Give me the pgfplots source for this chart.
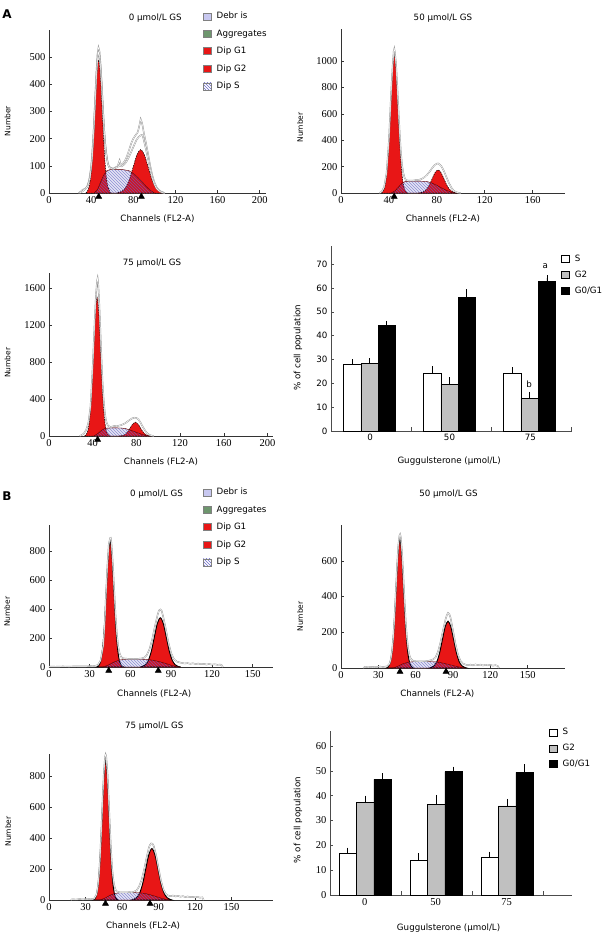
\documentclass[border=0pt]{standalone}
\usepackage{fontspec}
\setmainfont{DejaVu Sans}
\newfontfamily\serifnum{Liberation Serif}
\usepackage{pgfplots}
\pgfplotsset{compat=1.18}
\usetikzlibrary{patterns}
\definecolor{hred}{RGB}{232,22,22}
\definecolor{hatch}{RGB}{105,105,200}
\definecolor{debris}{RGB}{200,200,240}
\definecolor{aggr}{RGB}{110,150,110}
\definecolor{bargray}{RGB}{192,192,192}
\newcommand\lab{\fontsize{8.7}{10}\selectfont}
\newcommand\numf{\serifnum\fontsize{10.5}{12}\selectfont}

\pgfplotsset{
  hist/.style={scale only axis, anchor=south west, xmin=0, ymin=0,
    axis x line*=bottom, axis y line*=left,
    axis line style={black!80, line width=0.6pt, -},
    tick align=inside, major tick length=3pt,
    tick style={black!80, line width=0.5pt},
    tick label style={font=\numf},
    /pgf/number format/assume math mode=true,
    /pgf/number format/1000 sep={},
    xlabel={Channels (FL2-A)}, ylabel={Number},
    xlabel style={font=\lab, anchor=center},
    ylabel style={font=\fontsize{7.5}{9}\selectfont, anchor=center},
    every axis title shift=0pt,
    title style={font=\lab, anchor=center},
    clip=false,
    legend image code/.code={\draw[##1] (0pt,-3.5pt) rectangle (8pt,3.5pt);},
    legend cell align=left,
    legend style={anchor=north west, draw=none, fill=none, font=\lab,
      row sep=5.5pt, inner sep=0pt, /tikz/every odd column/.append style={column sep=3pt}},
  },
  bars/.style={scale only axis, anchor=south west, xmin=0, ymin=0,
    axis x line*=bottom, axis y line*=left,
    axis line style={black!70, line width=0.6pt, -},
    tick align=inside, major tick length=3pt, minor tick length=4pt,
    tick style={black!70, line width=0.5pt},
    minor xtick={1,2,3}, major x tick style={draw=none},
    /pgf/number format/assume math mode=true,
    xticklabels={0,50,75},
    ylabel={\% of cell population}, xlabel={Guggulsterone (μmol/L)},
    xlabel style={font=\lab, anchor=center},
    ylabel style={font=\lab, anchor=center},
    clip=false,
    legend image code/.code={\draw[##1] (0pt,-3.5pt) rectangle (8pt,3.5pt);},
    legend cell align=left,
    legend style={anchor=north west, draw=none, fill=none, font=\lab,
      row sep=4pt, inner sep=0pt, /tikz/every odd column/.append style={column sep=3pt}},
  },
  peakA/.style={fill=hred, draw=black, dash pattern=on 1.5pt off 1pt, line width=0.5pt, smooth, forget plot},
  peakB/.style={fill=hred, draw=black, line width=0.9pt, smooth, forget plot},
  sbase/.style={fill=white, draw=none, forget plot},
  sover/.style={fill=blue!60!black, fill opacity=0.1, draw=red!40!black, draw opacity=0.7, line width=0.4pt,
    postaction={pattern=north west lines, pattern color=hatch, fill opacity=0.9}, forget plot},
  dataline/.style={draw=gray!85, line width=0.45pt, double=white, double distance=0.5pt, forget plot},
  tri/.style={only marks, mark=triangle*, mark size=3.5pt, mark options={fill=black, draw=black, yshift=-3.6pt}, forget plot},
}

\begin{document}
\begin{tikzpicture}
\path[use as bounding box, fill=white] (0pt,0pt) rectangle (611pt,-937pt);

\node[font=\bfseries\fontsize{12}{12}\selectfont] at (7pt,-14pt) {A};
\node[font=\bfseries\fontsize{12}{12}\selectfont] at (7pt,-496pt) {B};

% ---------- A: 0 umol/L ----------
\begin{axis}[hist, at={(49pt,-193pt)}, width=217pt, height=163pt,
  xmax=206, ymax=600, xtick={0,40,...,200}, ytick={0,100,...,500},
  title={0 μmol/L GS}, title style={at={(axis description cs:0.49,1)}, yshift=12pt},
  xlabel style={at={(axis description cs:0.5,0)}, yshift=-26pt},
  ylabel style={at={(axis description cs:-0.191,0.44)}},
  legend style={at={(0.71,1.123)}}]
\addplot[sbase] coordinates {(43,0) (46,12) (49,40) (52,66) (55,82) (58,86) (64,86) (70,86) (76,82) (80,72) (84,58) (88,42) (92,25) (96,10) (100,0)} \closedcycle;
\addplot[peakA] coordinates {(35,0) (36.2,5) (38,22) (39.8,66) (41.6,159) (43.4,297) (45.2,432) (47,490) (48.8,432) (50.6,297) (52.4,159) (54.2,66) (56,22) (57.8,5) (59,0)} \closedcycle;
\addplot[peakA] coordinates {(65,0) (66,2) (69.5,7) (73,22) (76.5,52) (80,97) (83.5,141) (87,160) (90.5,141) (94,97) (97.5,52) (101,22) (104.5,7) (108,2) (109,0)} \closedcycle;
\addplot[sover] coordinates {(43,0) (46,12) (49,40) (52,66) (55,82) (58,86) (64,86) (70,86) (76,82) (80,72) (84,58) (88,42) (92,25) (96,10) (100,0)} \closedcycle;
\addplot[dataline] coordinates {(28,0) (30,5) (32,12) (34,15) (36,22) (38,45) (40,95) (42,200) (44,365) (45,445) (46,510) (47,535) (48,520) (49,470) (50,405) (51,330) (52,258) (53,198) (54,158) (55,128) (56,108) (57,97) (59,92) (61,90) (63,94) (65,98) (66,108) (67,120) (68,104) (70,108) (72,118) (74,135) (76,158) (78,182) (80,200) (82,212) (84,222) (85,235) (86,252) (87,272) (88,262) (89,245) (90,222) (92,185) (94,145) (96,102) (98,66) (100,40) (102,22) (104,12) (106,6) (108,3) (110,0)};
\addplot[dataline] coordinates {(29,0) (31,4) (33,10) (35,16) (37,28) (39,58) (41,130) (43,270) (45,432) (46,490) (47,518) (48,505) (49,462) (50,400) (51,326) (52,255) (53,196) (54,155) (55,126) (56,106) (57,96) (59,90) (61,88) (63,92) (65,95) (67,102) (69,98) (71,104) (73,112) (75,126) (77,142) (79,160) (81,178) (83,195) (85,206) (87,212) (88,214) (89,210) (90,195) (92,162) (94,125) (96,88) (98,56) (100,32) (102,17) (104,9) (106,4) (108,1) (110,0)};
\addplot[tri] coordinates {(47.2,0) (87.7,0)};
\addlegendimage{fill=debris, draw=gray}
\addlegendentry{Debr is}
\addlegendimage{fill=aggr, draw=gray}
\addlegendentry{Aggregates}
\addlegendimage{fill=hred, draw=gray}
\addlegendentry{Dip G1}
\addlegendimage{fill=hred, draw=gray}
\addlegendentry{Dip G2}
\addlegendimage{fill=white, draw=gray, postaction={pattern=north west lines, pattern color=hatch}}
\addlegendentry{Dip S}
\end{axis}

% ---------- A: 50 umol/L ----------
\begin{axis}[hist, at={(341pt,-193pt)}, width=224pt, height=164pt,
  xmax=187, ymax=1242, xtick={0,40,...,160}, ytick={0,200,...,1000},
  title={50 μmol/L GS}, title style={at={(axis description cs:0.455,1)}, yshift=11pt},
  xlabel style={at={(axis description cs:0.455,0)}, yshift=-26pt},
  ylabel style={at={(axis description cs:-0.183,0.40)}}]
\addplot[sbase] coordinates {(42,0) (45,15) (48,45) (51,75) (54,88) (60,90) (66,90) (72,86) (76,75) (80,58) (84,38) (88,20) (92,6) (95,0)} \closedcycle;
\addplot[peakA] coordinates {(33.5,0) (34.9,12) (36.5,46) (38.1,141) (39.7,338) (41.3,631) (42.9,918) (44.5,1040) (46.1,918) (47.7,631) (49.3,338) (50.9,141) (52.5,46) (54.1,12) (55.5,0)} \closedcycle;
\addplot[peakA] coordinates {(64.5,0) (66,2) (68.5,8) (71,24) (73.5,57) (76,106) (78.5,154) (81,175) (83.5,154) (86,106) (88.5,57) (91,24) (93.5,8) (96,2) (97.5,0)} \closedcycle;
\addplot[sover] coordinates {(42,0) (45,15) (48,45) (51,75) (54,88) (60,90) (66,90) (72,86) (76,75) (80,58) (84,38) (88,20) (92,6) (95,0)} \closedcycle;
\addplot[dataline] coordinates {(32,0) (34,10) (36,45) (38,150) (40,400) (42,790) (43,950) (44,1075) (44.5,1093) (45,1065) (46,975) (47,810) (48,630) (49,455) (50,310) (51,212) (52,152) (53,118) (54,100) (56,93) (58,95) (60,94) (62,97) (64,99) (66,102) (68,110) (70,122) (72,140) (74,162) (76,188) (78,210) (80,222) (81,224) (82,218) (84,200) (86,165) (88,120) (90,78) (92,42) (94,18) (96,7) (98,2) (100,0)};
\addplot[tri] coordinates {(44.4,0)};
\end{axis}

% ---------- A: 75 umol/L ----------
\begin{axis}[hist, at={(49pt,-436pt)}, width=224pt, height=163pt,
  xmax=205, ymax=1762, xtick={0,40,...,200}, ytick={0,400,...,1600},
  title={75 μmol/L GS}, title style={at={(axis description cs:0.46,1)}, yshift=10pt},
  xlabel style={at={(axis description cs:0.5,0)}, yshift=-26pt},
  ylabel style={at={(axis description cs:-0.185,0.45)}}]
\addplot[sbase] coordinates {(41,0) (44,20) (47,50) (50,75) (53,85) (60,88) (66,86) (70,80) (74,65) (78,48) (82,30) (86,14) (90,4) (92,0)} \closedcycle;
\addplot[peakA] coordinates {(32.5,0) (34.1,17) (35.75,66) (37.4,203) (39.05,487) (40.7,910) (42.35,1324) (44,1500) (45.65,1324) (47.3,910) (48.95,487) (50.6,203) (52.25,66) (53.9,17) (55.5,0)} \closedcycle;
\addplot[peakA] coordinates {(64,0) (65.5,2) (67.75,7) (70,20) (72.25,49) (74.5,91) (76.75,132) (79,150) (81.25,132) (83.5,91) (85.75,49) (88,20) (90.25,7) (92.5,2) (94,0)} \closedcycle;
\addplot[sover] coordinates {(41,0) (44,20) (47,50) (50,75) (53,85) (60,88) (66,86) (70,80) (74,65) (78,48) (82,30) (86,14) (90,4) (92,0)} \closedcycle;
\addplot[dataline] coordinates {(28,0) (30,10) (32,28) (34,65) (36,140) (38,320) (40,760) (41,1030) (42,1300) (43,1530) (44,1680) (44.5,1708) (45,1660) (46,1440) (47,1150) (48,850) (49,590) (50,400) (51,265) (52,180) (53,135) (54,112) (56,98) (58,102) (60,110) (62,104) (64,112) (66,118) (68,128) (70,140) (72,158) (74,175) (76,190) (78,198) (80,196) (82,178) (84,140) (86,96) (88,58) (90,28) (92,11) (94,4) (96,0)};
\addplot[tri] coordinates {(44.5,0)};
\end{axis}

% ---------- A: bar chart ----------
\begin{axis}[bars, at={(331pt,-431pt)}, width=241pt, height=185pt,
  xmax=3.01, ymax=77.6, ytick={0,10,...,70}, xtick={0.49,1.48,2.49},
  tick label style={font=\lab},
  xlabel style={at={(axis description cs:0.49,0)}, yshift=-30pt},
  ylabel style={at={(axis description cs:-0.137,0.45)}},
  legend style={at={(0.955,0.965)}}]
\addplot[ybar, bar width=0.215, bar shift=0pt, fill=white, draw=black, line width=0.5pt, forget plot,
  error bars/.cd, y dir=plus, y explicit, error bar style={black, line width=0.5pt}, error mark options={black, mark size=3pt, line width=0.5pt}]
  coordinates {(0.265,28.2) +- (0,0.7) (1.265,24.2) +- (0,1.6) (2.265,24.2) +- (0,1.3)};
\addplot[ybar, bar width=0.215, bar shift=0pt, fill=bargray, draw=black, line width=0.5pt, forget plot,
  error bars/.cd, y dir=plus, y explicit, error bar style={black, line width=0.5pt}, error mark options={black, mark size=3pt, line width=0.5pt}]
  coordinates {(0.48,28.4) +- (0,0.9) (1.48,19.6) +- (0,1.7) (2.48,13.7) +- (0,1.5)};
\addplot[ybar, bar width=0.215, bar shift=0pt, fill=black, draw=black, line width=0.5pt, forget plot,
  error bars/.cd, y dir=plus, y explicit, error bar style={black, line width=0.5pt}, error mark options={black, mark size=3pt, line width=0.5pt}]
  coordinates {(0.695,44.2) +- (0,0.7) (1.695,56.0) +- (0,2.3) (2.695,62.8) +- (0,1.3)};
\node[font=\lab] at (axis cs:2.675,69.2) {a};
\node[font=\lab] at (axis cs:2.475,19.4) {b};
\addlegendimage{fill=white, draw=black}
\addlegendentry{S}
\addlegendimage{fill=bargray, draw=black}
\addlegendentry{G2}
\addlegendimage{fill=black, draw=black}
\addlegendentry{G0/G1}
\end{axis}

% ---------- B: 0 umol/L ----------
\begin{axis}[hist, at={(49pt,-667pt)}, width=224pt, height=142pt,
  xmax=165, ymax=980, xtick={0,30,...,150}, ytick={0,200,...,800},
  title={0 μmol/L GS}, title style={at={(axis description cs:0.48,1)}, yshift=31pt},
  xlabel style={at={(axis description cs:0.47,0)}, yshift=-27pt},
  ylabel style={at={(axis description cs:-0.1875,0.39)}},
  legend style={at={(0.6875,1.275)}}]
\addplot[sbase] coordinates {(40,0) (44,15) (48,35) (52,48) (56,53) (62,55) (68,54) (74,50) (78,44) (82,35) (86,24) (90,12) (94,3) (96,0)} \closedcycle;
\addplot[peakB] coordinates {(35,0) (36.6,10) (38,38) (39.4,118) (40.8,282) (42.2,528) (43.6,768) (45,870) (46.4,768) (47.8,528) (49.2,282) (50.6,118) (52,38) (53.4,10) (55,0)} \closedcycle;
\addplot[peakB] coordinates {(67,0) (68.8,4) (71,15) (73.2,46) (75.4,110) (77.6,206) (79.8,300) (82,340) (84.2,300) (86.4,206) (88.6,110) (90.8,46) (93,15) (95.2,4) (97,0)} \closedcycle;
\addplot[sover] coordinates {(40,0) (44,15) (48,35) (52,48) (56,53) (62,55) (68,54) (74,50) (78,44) (82,35) (86,24) (90,12) (94,3) (96,0)} \closedcycle;
\addplot[dataline] coordinates {(0,3) (5,2) (10,4) (15,3) (20,5) (25,4) (30,6) (34,8) (36,14) (38,45) (40,150) (41,300) (42,510) (43,700) (44,845) (45,890) (45.5,892) (46,855) (47,720) (48,540) (49,365) (50,230) (51,142) (52,95) (53,72) (54,62) (56,58) (58,57) (60,56) (62,57) (64,56) (66,57) (68,59) (70,64) (72,82) (74,122) (76,190) (78,280) (80,360) (81,390) (82,397) (83,388) (84,352) (86,265) (88,168) (90,95) (92,55) (94,38) (96,32) (98,28) (100,24) (102,27) (104,22) (106,26) (108,20) (110,24) (112,19) (114,22) (116,17) (118,21) (120,16) (122,19) (124,15) (126,17) (127.5,10) (128,0)};
\addplot[tri] coordinates {(44,0) (80.5,0)};
\addlegendimage{fill=debris, draw=gray}
\addlegendentry{Debr is}
\addlegendimage{fill=aggr, draw=gray}
\addlegendentry{Aggregates}
\addlegendimage{fill=hred, draw=gray}
\addlegendentry{Dip G1}
\addlegendimage{fill=hred, draw=gray}
\addlegendentry{Dip G2}
\addlegendimage{fill=white, draw=gray, postaction={pattern=north west lines, pattern color=hatch}}
\addlegendentry{Dip S}
\end{axis}

% ---------- B: 50 umol/L ----------
\begin{axis}[hist, at={(341pt,-668pt)}, width=224pt, height=143pt,
  xmax=180, ymax=800, xtick={0,30,...,150}, ytick={0,200,...,600},
  title={50 μmol/L GS}, title style={at={(axis description cs:0.48,1)}, yshift=31pt},
  xlabel style={at={(axis description cs:0.43,0)}, yshift=-26pt},
  ylabel style={at={(axis description cs:-0.183,0.36)}}]
\addplot[sbase] coordinates {(42,0) (46,10) (50,24) (54,32) (58,35) (64,36) (70,36) (76,34) (80,30) (84,24) (88,17) (92,10) (96,4) (100,0)} \closedcycle;
\addplot[peakB] coordinates {(36.5,0) (38,8) (39.55,32) (41.1,97) (42.65,234) (44.2,437) (45.75,635) (47.3,720) (48.85,635) (50.4,437) (51.95,234) (53.5,97) (55.05,32) (56.6,8) (58,0)} \closedcycle;
\addplot[peakB] coordinates {(71,0) (72.5,3) (74.75,12) (77,35) (79.25,85) (81.5,159) (83.75,231) (86,262) (88.25,231) (90.5,159) (92.75,85) (95,35) (97.25,12) (99.5,3) (101,0)} \closedcycle;
\addplot[sover] coordinates {(42,0) (46,10) (50,24) (54,32) (58,35) (64,36) (70,36) (76,34) (80,30) (84,24) (88,17) (92,10) (96,4) (100,0)} \closedcycle;
\addplot[dataline] coordinates {(18,0) (19,6) (22,4) (25,7) (28,5) (31,8) (34,6) (37,9) (39,24) (40,48) (41,95) (42,172) (43,285) (44,425) (45,568) (46,685) (47,742) (47.5,749) (48,735) (49,655) (50,530) (51,392) (52,265) (53,170) (54,108) (55,72) (56,52) (58,40) (60,38) (62,38) (64,37) (66,38) (68,38) (70,40) (72,43) (74,48) (76,60) (78,92) (80,145) (82,212) (84,272) (85,295) (86,308) (87,302) (88,282) (90,210) (92,135) (94,75) (96,40) (98,25) (100,19) (102,16) (104,19) (106,15) (108,20) (110,16) (112,19) (114,14) (116,17) (118,15) (120,18) (122,13) (124,16) (126,11) (127,0)};
\addplot[tri] coordinates {(47.4,0) (84.4,0)};
\end{axis}

% ---------- B: 75 umol/L ----------
\begin{axis}[hist, at={(49pt,-900pt)}, width=224pt, height=146pt,
  xmax=184, ymax=945, xtick={0,30,...,150}, ytick={0,200,...,800},
  title={75 μmol/L GS}, title style={at={(axis description cs:0.47,1)}, yshift=28pt},
  xlabel style={at={(axis description cs:0.42,0)}, yshift=-26pt},
  ylabel style={at={(axis description cs:-0.183,0.47)}}]
\addplot[sbase] coordinates {(42,0) (46,12) (50,30) (54,42) (58,47) (64,48) (70,48) (76,45) (80,40) (84,32) (88,22) (92,12) (96,4) (99,0)} \closedcycle;
\addplot[peakB] coordinates {(36.3,0) (37.8,10) (39.25,40) (40.7,122) (42.15,294) (43.6,549) (45.05,799) (46.5,905) (47.95,799) (49.4,549) (50.85,294) (52.3,122) (53.75,40) (55.2,10) (56.7,0)} \closedcycle;
\addplot[peakB] coordinates {(68,0) (69.5,4) (72,15) (74.5,45) (77,108) (79.5,202) (82,294) (84.5,333) (87,294) (89.5,202) (92,108) (94.5,45) (97,15) (99.5,4) (101,0)} \closedcycle;
\addplot[sover] coordinates {(42,0) (46,12) (50,30) (54,42) (58,47) (64,48) (70,48) (76,45) (80,40) (84,32) (88,22) (92,12) (96,4) (99,0)} \closedcycle;
\addplot[dataline] coordinates {(18,0) (19,5) (22,3) (25,6) (28,4) (31,7) (34,5) (37,8) (39,35) (40,80) (41,155) (42,285) (43,455) (44,650) (45,820) (46,925) (46.5,942) (47,930) (48,830) (49,665) (50,478) (51,318) (52,196) (53,122) (54,82) (55,62) (56,54) (58,50) (60,49) (62,50) (64,50) (66,51) (68,50) (70,54) (72,62) (74,88) (76,128) (78,192) (80,268) (82,338) (83,358) (84,366) (85,364) (86,350) (88,290) (90,205) (92,125) (94,68) (96,38) (98,28) (100,26) (102,29) (104,23) (106,27) (108,21) (110,25) (112,19) (114,23) (116,18) (118,21) (120,17) (122,20) (124,15) (126,17) (127,0)};
\addplot[tri] coordinates {(46.4,0) (83,0)};
\end{axis}

% ---------- B: bar chart ----------
\begin{axis}[bars, at={(330pt,-895pt)}, width=242pt, height=164pt,
  xmax=3.41, ymax=66, ytick={0,10,...,60}, xtick={0.49,1.49,2.49},
  tick label style={font=\numf},
  xlabel style={at={(axis description cs:0.49,0)}, yshift=-33pt},
  ylabel style={at={(axis description cs:-0.132,0.457)}},
  legend style={at={(0.905,1.03)}}]
\addplot[ybar, bar width=0.245, bar shift=0pt, fill=white, draw=black, line width=0.5pt, forget plot,
  error bars/.cd, y dir=plus, y explicit, error bar style={black, line width=0.5pt}, error mark options={black, mark size=3pt, line width=0.5pt}]
  coordinates {(0.25,16.7) +- (0,1.2) (1.25,14.1) +- (0,1.4) (2.25,15.0) +- (0,1.3)};
\addplot[ybar, bar width=0.245, bar shift=0pt, fill=bargray, draw=black, line width=0.5pt, forget plot,
  error bars/.cd, y dir=plus, y explicit, error bar style={black, line width=0.5pt}, error mark options={black, mark size=3pt, line width=0.5pt}]
  coordinates {(0.495,37.2) +- (0,1.6) (1.495,36.5) +- (0,2.6) (2.495,35.9) +- (0,1.6)};
\addplot[ybar, bar width=0.245, bar shift=0pt, fill=black, draw=black, line width=0.5pt, forget plot,
  error bars/.cd, y dir=plus, y explicit, error bar style={black, line width=0.5pt}, error mark options={black, mark size=3pt, line width=0.5pt}]
  coordinates {(0.74,46.5) +- (0,1.3) (1.74,49.7) +- (0,0.8) (2.74,49.4) +- (0,2.0)};
\addlegendimage{fill=white, draw=black}
\addlegendentry{S}
\addlegendimage{fill=bargray, draw=black}
\addlegendentry{G2}
\addlegendimage{fill=black, draw=black}
\addlegendentry{G0/G1}
\end{axis}
\end{tikzpicture}
\end{document}
